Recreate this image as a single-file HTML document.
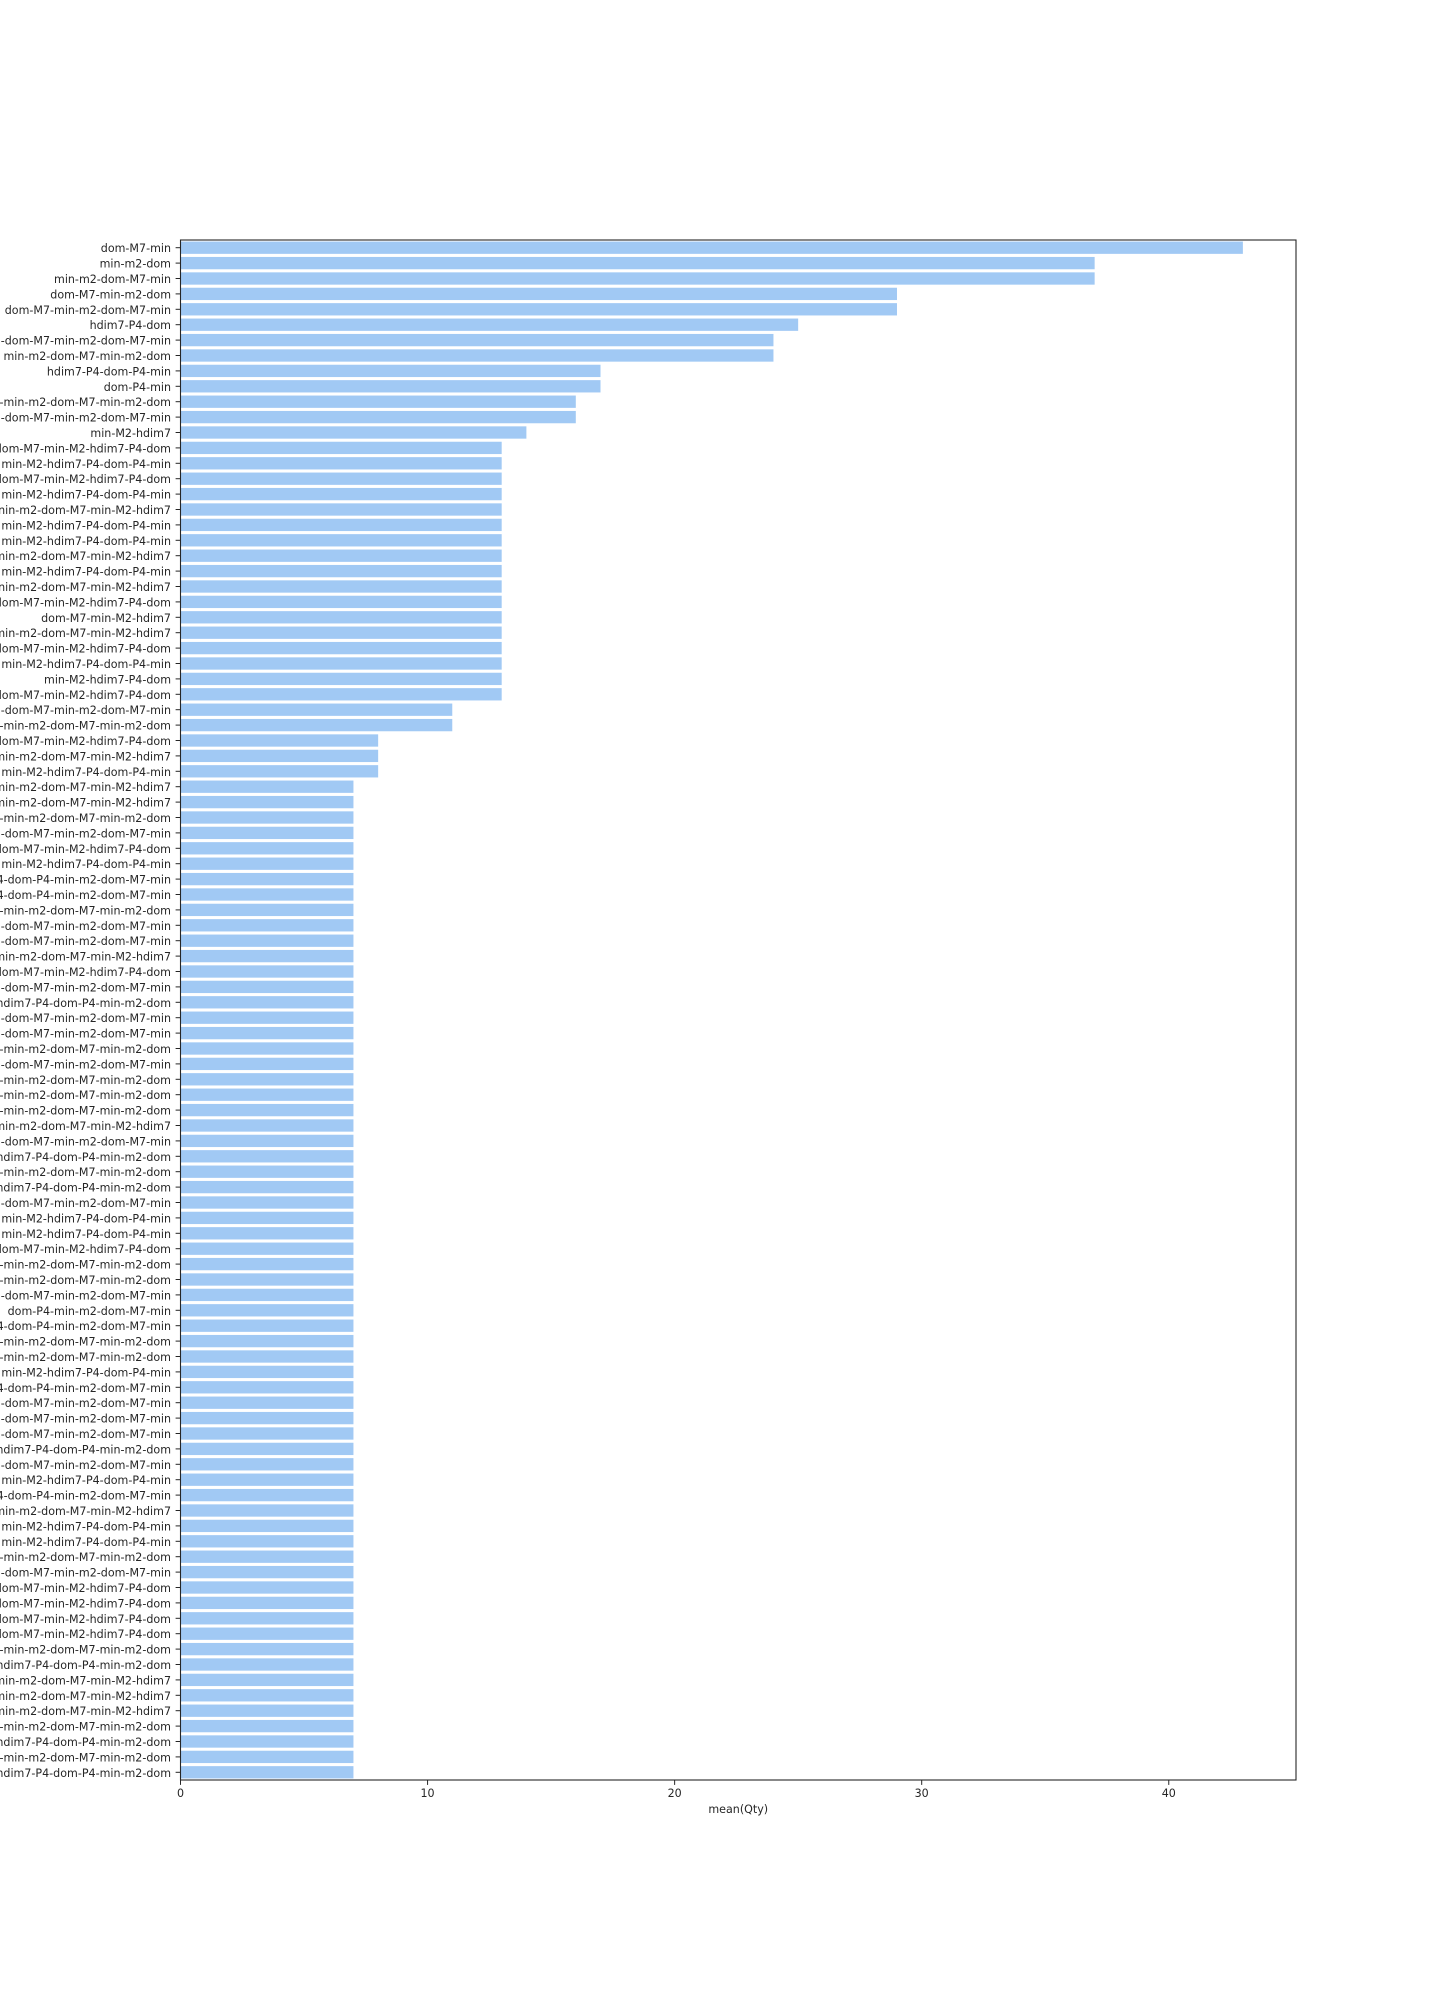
<!DOCTYPE html>
<html><head><meta charset="utf-8"><style>
body{margin:0;background:#fff;width:1440px;height:2000px;overflow:hidden}
svg{display:block;font-family:"DejaVu Sans","Liberation Sans",sans-serif}
</style></head><body>
<svg id="chart" width="1440" height="2000" xmlns="http://www.w3.org/2000/svg"></svg>
<script>
const categories = ["dom-M7-min","min-m2-dom","min-m2-dom-M7-min","dom-M7-min-m2-dom","dom-M7-min-m2-dom-M7-min","hdim7-P4-dom","-dom-M7-min-m2-dom-M7-min","min-m2-dom-M7-min-m2-dom","hdim7-P4-dom-P4-min","dom-P4-min",
"-min-m2-dom-M7-min-m2-dom","-dom-M7-min-m2-dom-M7-min","min-M2-hdim7","dom-M7-min-M2-hdim7-P4-dom","min-M2-hdim7-P4-dom-P4-min","dom-M7-min-M2-hdim7-P4-dom","min-M2-hdim7-P4-dom-P4-min","nin-m2-dom-M7-min-M2-hdim7","min-M2-hdim7-P4-dom-P4-min","min-M2-hdim7-P4-dom-P4-min",
"min-m2-dom-M7-min-M2-hdim7","min-M2-hdim7-P4-dom-P4-min","nin-m2-dom-M7-min-M2-hdim7","dom-M7-min-M2-hdim7-P4-dom","dom-M7-min-M2-hdim7","min-m2-dom-M7-min-M2-hdim7","dom-M7-min-M2-hdim7-P4-dom","min-M2-hdim7-P4-dom-P4-min","min-M2-hdim7-P4-dom","dom-M7-min-M2-hdim7-P4-dom",
"-dom-M7-min-m2-dom-M7-min","-min-m2-dom-M7-min-m2-dom","dom-M7-min-M2-hdim7-P4-dom","min-m2-dom-M7-min-M2-hdim7","min-M2-hdim7-P4-dom-P4-min","min-m2-dom-M7-min-M2-hdim7","min-m2-dom-M7-min-M2-hdim7","-min-m2-dom-M7-min-m2-dom","-dom-M7-min-m2-dom-M7-min","dom-M7-min-M2-hdim7-P4-dom",
"min-M2-hdim7-P4-dom-P4-min","P4-dom-P4-min-m2-dom-M7-min","P4-dom-P4-min-m2-dom-M7-min","-min-m2-dom-M7-min-m2-dom","-dom-M7-min-m2-dom-M7-min","-dom-M7-min-m2-dom-M7-min","min-m2-dom-M7-min-M2-hdim7","dom-M7-min-M2-hdim7-P4-dom","-dom-M7-min-m2-dom-M7-min","hdim7-P4-dom-P4-min-m2-dom",
"-dom-M7-min-m2-dom-M7-min","-dom-M7-min-m2-dom-M7-min","-min-m2-dom-M7-min-m2-dom","-dom-M7-min-m2-dom-M7-min","-min-m2-dom-M7-min-m2-dom","-min-m2-dom-M7-min-m2-dom","-min-m2-dom-M7-min-m2-dom","min-m2-dom-M7-min-M2-hdim7","-dom-M7-min-m2-dom-M7-min","hdim7-P4-dom-P4-min-m2-dom",
"-min-m2-dom-M7-min-m2-dom","hdim7-P4-dom-P4-min-m2-dom","-dom-M7-min-m2-dom-M7-min","min-M2-hdim7-P4-dom-P4-min","min-M2-hdim7-P4-dom-P4-min","dom-M7-min-M2-hdim7-P4-dom","-min-m2-dom-M7-min-m2-dom","-min-m2-dom-M7-min-m2-dom","-dom-M7-min-m2-dom-M7-min","dom-P4-min-m2-dom-M7-min",
"P4-dom-P4-min-m2-dom-M7-min","-min-m2-dom-M7-min-m2-dom","-min-m2-dom-M7-min-m2-dom","min-M2-hdim7-P4-dom-P4-min","P4-dom-P4-min-m2-dom-M7-min","-dom-M7-min-m2-dom-M7-min","-dom-M7-min-m2-dom-M7-min","-dom-M7-min-m2-dom-M7-min","hdim7-P4-dom-P4-min-m2-dom","-dom-M7-min-m2-dom-M7-min",
"min-M2-hdim7-P4-dom-P4-min","P4-dom-P4-min-m2-dom-M7-min","min-m2-dom-M7-min-M2-hdim7","min-M2-hdim7-P4-dom-P4-min","min-M2-hdim7-P4-dom-P4-min","-min-m2-dom-M7-min-m2-dom","-dom-M7-min-m2-dom-M7-min","dom-M7-min-M2-hdim7-P4-dom","dom-M7-min-M2-hdim7-P4-dom","dom-M7-min-M2-hdim7-P4-dom",
"dom-M7-min-M2-hdim7-P4-dom","-min-m2-dom-M7-min-m2-dom","hdim7-P4-dom-P4-min-m2-dom","min-m2-dom-M7-min-M2-hdim7","min-m2-dom-M7-min-M2-hdim7","min-m2-dom-M7-min-M2-hdim7","-min-m2-dom-M7-min-m2-dom","hdim7-P4-dom-P4-min-m2-dom","-min-m2-dom-M7-min-m2-dom","hdim7-P4-dom-P4-min-m2-dom"];
const values = [43,37,37,29,29,25,24,24,17,17,16,16,14,
13,13,13,13,13,13,13,13,13,13,13,13,13,13,13,13,13,
11,11,8,8,8,
7,7,7,7,7,7,7,7,7,7,7,7,7,7,7,7,7,7,7,7,7,7,7,7,7,7,7,7,7,7,7,7,7,7,7,7,7,7,7,7,7,7,7,7,7,7,7,7,7,7,7,7,7,7,7,7,7,7,7,7,7,7,7,7,7];
const xTicks = [0,10,20,30,40];
const xMax = 45.15;

const NS="http://www.w3.org/2000/svg";
const svg=document.getElementById('chart');
const L=180.5,R=1296,T=240,B=1780;
const xs=v=>L+(v/xMax)*(R-L);
const step=(B-T)/categories.length;
const yc=i=>T+(i+0.5)*step;
function mk(tag,attrs){const e=document.createElementNS(NS,tag);for(const k in attrs)e.setAttribute(k,attrs[k]);svg.appendChild(e);return e;}

categories.forEach((c,i)=>{
  const bar=mk('rect',{x:xs(0),y:yc(i)-step*0.4,width:xs(values[i])-xs(0),height:step*0.8,fill:'#a1c9f4'});
  
  
  const tk=mk('line',{x1:L-4.9,x2:L,y1:yc(i),y2:yc(i),stroke:'#262626','stroke-width':1});
  
  
  const t=mk('text',{x:L-9.5,y:yc(i)+4.5,'text-anchor':'end','font-size':'11.1px',fill:'#262626'});
  t.textContent=c;
  
  
});
xTicks.forEach(v=>{
  const tk=mk('line',{x1:xs(v),x2:xs(v),y1:B,y2:B+4.9,stroke:'#262626','stroke-width':1});
  
  
  const t=mk('text',{x:xs(v),y:B+17,'text-anchor':'middle','font-size':'11.1px',fill:'#262626'});
  t.textContent=v;
  
  
});
const frame=mk('rect',{x:L,y:T,width:R-L,height:B-T,fill:'none',stroke:'#262626','stroke-width':1.1});


const xl=mk('text',{x:(L+R)/2,y:B+33,'text-anchor':'middle','font-size':'11.1px',fill:'#262626'});
xl.textContent='mean(Qty)';


</script>
</body></html>
